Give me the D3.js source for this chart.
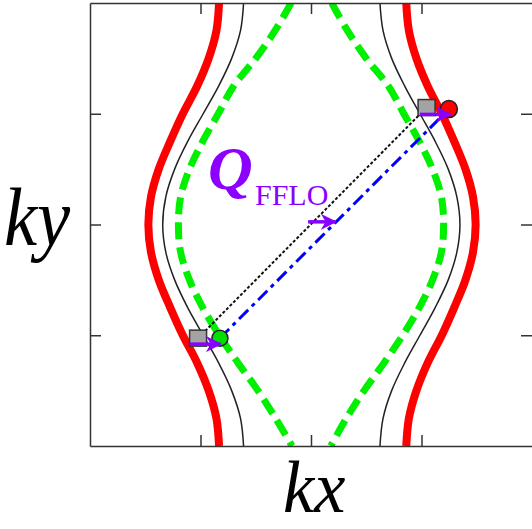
<!DOCTYPE html>
<html><head><meta charset="utf-8">
<script src="https://cdn.jsdelivr.net/npm/d3@7"></script>
<style>html,body{margin:0;padding:0;background:#fff;overflow:hidden}</style>
</head><body>
<svg id="chart" width="532" height="529"></svg>
<script>
// ky grid (units of pi), top to bottom
const kyGrid = [1, 0.875, 0.75, 0.625, 0.5, 0.375, 0.25, 0.125, 0, -0.125, -0.25, -0.375, -0.5, -0.625, -0.75, -0.875, -1];
// Fermi-surface branches, kx (units of pi) at each ky
const redLeft   = [-0.416,-0.428,-0.463,-0.515,-0.580,-0.637,-0.689,-0.724,-0.736,-0.724,-0.689,-0.637,-0.580,-0.515,-0.463,-0.428,-0.416];
const redRight  = [0.431,0.443,0.477,0.528,0.592,0.648,0.699,0.733,0.745,0.733,0.699,0.648,0.592,0.528,0.477,0.443,0.431];
const blackLeft = [-0.305,-0.319,-0.359,-0.418,-0.488,-0.558,-0.617,-0.657,-0.671,-0.657,-0.617,-0.558,-0.488,-0.418,-0.359,-0.319,-0.305];
const blackRight= [0.312,0.326,0.365,0.424,0.493,0.562,0.621,0.660,0.674,0.660,0.621,0.562,0.493,0.424,0.365,0.326,0.312];
const greenLeft = [-0.090,-0.163,-0.250,-0.350,-0.420,-0.490,-0.550,-0.590,-0.600,-0.590,-0.550,-0.490,-0.415,-0.330,-0.240,-0.160,-0.086];
const greenRight= [0.094,0.165,0.250,0.350,0.420,0.490,0.550,0.590,0.600,0.590,0.550,0.490,0.415,0.330,0.240,0.160,0.090];
// pair momenta (kx, ky) in units of pi
const squares = [[-0.511,-0.513],[0.523,0.528]];
const greenDot = [-0.412,-0.513];
const redDot = [0.624,0.521];
const qArrows = [[[-0.548,-0.540],[-0.410,-0.540]],[[0.493,0.497],[0.631,0.497]],[[-0.013,0.012],[0.110,0.012]]];
const ticks = [-0.5, 0, 0.5];

const svg = d3.select("#chart");
const x = d3.scaleLinear().domain([-1,1]).range([90,532]);
const y = d3.scaleLinear().domain([-1,1]).range([446,3]);

const defs = svg.append("defs");
defs.append("clipPath").attr("id","clip")
  .append("rect").attr("x",90).attr("y",3).attr("width",442).attr("height",443);
defs.append("marker").attr("id","ah").attr("viewBox","0 0 10 10").attr("refX",9).attr("refY",5)
  .attr("markerWidth",4.6).attr("markerHeight",4.6).attr("markerUnits","strokeWidth").attr("orient","auto")
  .append("path").attr("d","M0,0 L10,5 L0,10 L3,5 Z").attr("fill","#8800ff");

const g = svg.append("g").attr("clip-path","url(#clip)");
const line = d3.line().x(d=>x(d[0])).y(d=>y(d[1])).curve(d3.curveCatmullRom);
const branch = arr => arr.map((v,i)=>[v, kyGrid[i]]);

[[redLeft,"#ff0000",8,null],[redRight,"#ff0000",8,null],
 [blackLeft,"#222",1.5,null],[blackRight,"#222",1.5,null],
 [greenLeft,"#00f000",7,"17,8"],[greenRight,"#00f000",7,"17,8"]].forEach(([arr,c,w,da])=>{
  g.append("path").datum(branch(arr)).attr("d",line).attr("fill","none")
   .attr("stroke",c).attr("stroke-width",w).attr("stroke-dasharray",da);
});

// connecting lines
g.append("line").attr("x1",x(squares[0][0])).attr("y1",y(squares[0][1]))
  .attr("x2",x(squares[1][0])).attr("y2",y(squares[1][1]))
  .attr("stroke","#111").attr("stroke-width",2).attr("stroke-dasharray","3,2");
g.append("line").attr("x1",x(greenDot[0])).attr("y1",y(greenDot[1]))
  .attr("x2",x(redDot[0])).attr("y2",y(redDot[1]))
  .attr("stroke","#0000ff").attr("stroke-width",3).attr("stroke-dasharray","13,5,4,5");

// squares
squares.forEach(s=>{
  g.append("rect").attr("x",x(s[0])-8.5).attr("y",y(s[1])-8).attr("width",17).attr("height",16)
   .attr("fill","#a3a3a3").attr("stroke","#333").attr("stroke-width",1.5);
});
// dots
g.append("circle").attr("cx",x(greenDot[0])).attr("cy",y(greenDot[1])).attr("r",8)
  .attr("fill","#00e000").attr("stroke","#222").attr("stroke-width",1.5);
g.append("circle").attr("cx",x(redDot[0])).attr("cy",y(redDot[1])).attr("r",8.5)
  .attr("fill","#ff0000").attr("stroke","#222").attr("stroke-width",1.5);
// purple arrows
qArrows.forEach(a=>{
  g.append("line").attr("x1",x(a[0][0])).attr("y1",y(a[0][1])).attr("x2",x(a[1][0])).attr("y2",y(a[1][1]))
   .attr("stroke","#8800ff").attr("stroke-width",3.5).attr("marker-end","url(#ah)");
});

// axes (ticks inward, no labels)
const axStyle = sel => { sel.selectAll("path,line").attr("stroke","#333").attr("stroke-width",1.5); sel.selectAll("text").remove(); };
svg.append("g").attr("transform","translate(0,446)").call(d3.axisBottom(x).tickValues(ticks).tickSize(-11).tickSizeOuter(0).tickFormat("")).call(axStyle);
svg.append("g").attr("transform","translate(0,3)").call(d3.axisTop(x).tickValues(ticks).tickSize(-11).tickSizeOuter(0).tickFormat("")).call(axStyle);
svg.append("g").attr("transform","translate(90,0)").call(d3.axisLeft(y).tickValues(ticks).tickSize(-11).tickSizeOuter(0).tickFormat("")).call(axStyle);
svg.append("g").attr("transform","translate(532,0)").call(d3.axisRight(y).tickValues(ticks).tickSize(-11).tickSizeOuter(0).tickFormat("")).call(axStyle)
  .select(".domain").remove();

// labels
const serif = "'Liberation Serif','DejaVu Serif',serif";
svg.append("text").attr("x",208).attr("y",189).attr("font-family",serif).attr("font-style","italic")
  .attr("font-weight","bold").attr("font-size",62).attr("fill","#8c00ff").text("Q");
svg.append("text").attr("x",255).attr("y",205).attr("font-family",serif)
  .attr("font-size",30).attr("fill","#8c00ff").text("FFLO");
svg.append("text").attr("transform","translate(4,245) scale(0.91,1)").attr("font-family",serif).attr("font-style","italic")
  .attr("font-size",82).attr("fill","#000").text("ky");
svg.append("text").attr("transform","translate(283,512) scale(0.95,1)").attr("font-family",serif).attr("font-style","italic")
  .attr("font-size",74).attr("fill","#000").text("kx");
</script>
</body></html>
